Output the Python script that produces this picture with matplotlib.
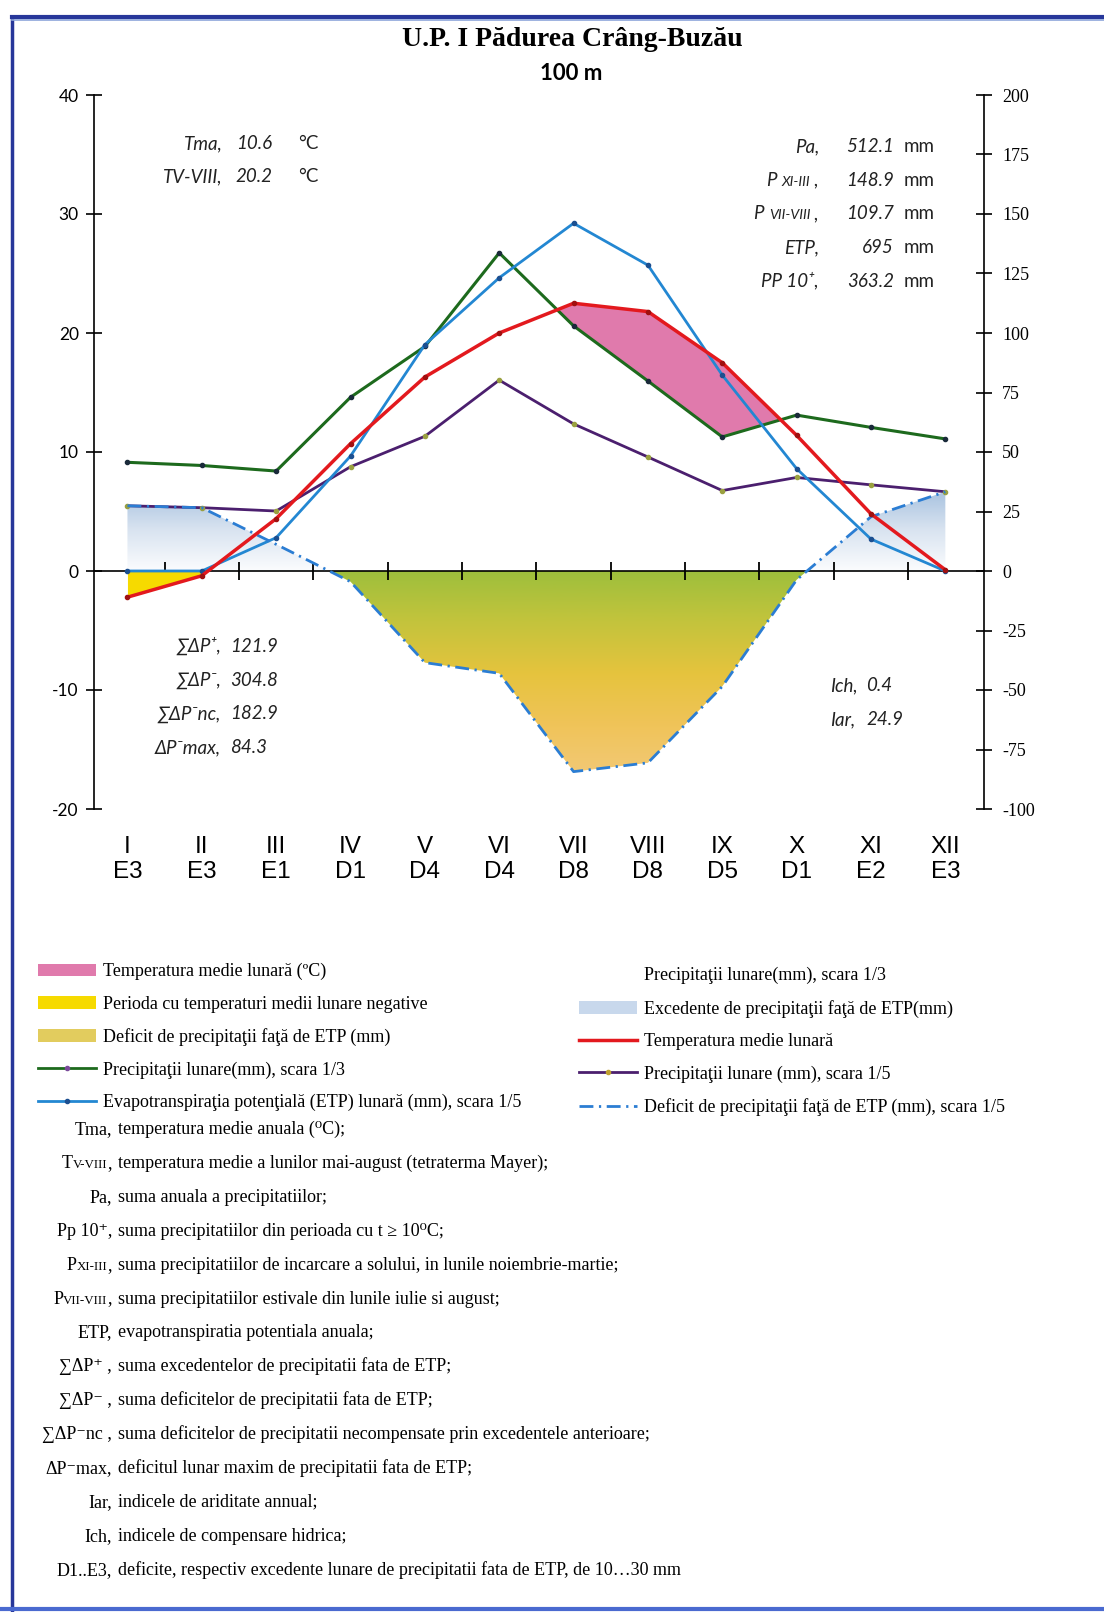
import matplotlib
matplotlib.use("Agg")
import matplotlib.pyplot as plt
import numpy as np
from matplotlib.colors import LinearSegmentedColormap
from matplotlib.lines import Line2D
from matplotlib.patches import Patch
from matplotlib.path import Path

plt.rcParams["axes.unicode_minus"] = False

# ---- data ----
months = ["I", "II", "III", "IV", "V", "VI", "VII", "VIII", "IX", "X", "XI", "XII"]
codes = ["E3", "E3", "E1", "D1", "D4", "D4", "D8", "D8", "D5", "D1", "E2", "E3"]
temp = [-2.2, -0.4, 4.4, 10.7, 16.3, 20.0, 22.5, 21.8, 17.5, 11.4, 4.8, 0.1]          # °C
precip = [27.4, 26.6, 25.2, 43.8, 56.6, 80.2, 61.8, 47.9, 33.8, 39.3, 36.2, 33.3]    # mm
etp = [0, 0, 14.0, 48.3, 95.1, 123.2, 146.1, 128.5, 82.3, 43.0, 13.4, 0]             # mm
deficit = [27.4, 26.6, 11.2, -4.5, -38.5, -43.0, -84.3, -80.6, -48.5, -3.7, 22.8, 33.3]  # mm

stats_tl = [("Tma,", "10.6"), ("TV-VIII,", "20.2")]
stats_tr = [([("Pa,", 1.0)], "512.1"),
            ([("P ", 1.0), ("XI-III", 0.75), (" ,", 1.0)], "148.9"),
            ([("P ", 1.0), ("VII-VIII", 0.75), (" ,", 1.0)], "109.7"),
            ([("ETP,", 1.0)], "695"),
            ([("PP 10⁺,", 1.0)], "363.2")]
stats_bl = [("∑ΔP⁺,", "121.9"), ("∑ΔP⁻,", "304.8"), ("∑ΔP⁻nc,", "182.9"), ("ΔP⁻max,", "84.3")]
stats_br = [("Ich,", "0.4"), ("Iar,", "24.9")]

legend_left = ["Temperatura medie lunară (ºC)",
               "Perioda cu temperaturi medii lunare negative",
               "Deficit de precipitaţii faţă de ETP (mm)",
               "Precipitaţii lunare(mm), scara 1/3",
               "Evapotranspiraţia potenţială (ETP) lunară (mm), scara 1/5"]
legend_right = ["Precipitaţii lunare(mm), scara 1/3",
                "Excedente de precipitaţii faţă de ETP(mm)",
                "Temperatura medie lunară",
                "Precipitaţii lunare (mm), scara 1/5",
                "Deficit de precipitaţii faţă de ETP (mm), scara 1/5"]

notes = [
    ([("Tma,", 1.0)], "temperatura medie anuala (⁰C);"),
    ([("T", 1.0), ("V-VIII", 0.72), (",", 1.0)], "temperatura medie a lunilor mai-august (tetraterma Mayer);"),
    ([("Pa,", 1.0)], "suma anuala a precipitatiilor;"),
    ([("Pp 10⁺,", 1.0)], "suma precipitatiilor din perioada cu t ≥ 10⁰C;"),
    ([("P", 1.0), ("XI-III", 0.72), (",", 1.0)], "suma precipitatiilor de incarcare a solului, in lunile noiembrie-martie;"),
    ([("P", 1.0), ("VII-VIII", 0.72), (",", 1.0)], "suma precipitatiilor estivale din lunile iulie si august;"),
    ([("ETP,", 1.0)], "evapotranspiratia potentiala anuala;"),
    ([("∑ΔP⁺ ,", 1.0)], "suma excedentelor de precipitatii fata de ETP;"),
    ([("∑ΔP⁻ ,", 1.0)], "suma deficitelor de precipitatii fata de ETP;"),
    ([("∑ΔP⁻nc ,", 1.0)], "suma deficitelor de precipitatii necompensate prin excedentele anterioare;"),
    ([("ΔP⁻max,", 1.0)], "deficitul lunar maxim de precipitatii fata de ETP;"),
    ([("Iar,", 1.0)], "indicele de ariditate annual;"),
    ([("Ich,", 1.0)], "indicele de compensare hidrica;"),
    ([("D1..E3,", 1.0)], "deficite, respectiv excedente lunare de precipitatii fata de ETP, de 10…30 mm"),
]

SERIF = ["Liberation Serif", "DejaVu Serif"]
SANS = ["Lato", "DejaVu Sans"]

W, H = 1104, 1612
fig = plt.figure(figsize=(W / 100, H / 100), dpi=100)
fig.patch.set_facecolor("white")

ax = fig.add_axes([94 / W, 1 - 809 / H, 890 / W, 714 / H])
ax2 = ax.twinx()          # mm scale (1/5 of the temperature scale)
ax.set_zorder(2)
ax.patch.set_visible(False)

xs = np.arange(1, 13)
t = np.array(temp)
p3 = np.array(precip) / 3
d = np.array(deficit)
mm = ax2.transData

# gradient areas (excess / deficit of precipitation vs ETP)
exc = ax.fill_between(xs, d, 0, where=d > 0, interpolate=True, transform=mm,
                      facecolor="none", edgecolor="none")
dfc = ax.fill_between(xs, d, 0, where=d < 0, interpolate=True, transform=mm,
                      facecolor="none", edgecolor="none")
grad = np.linspace(0, 1, 256).reshape(-1, 1)
cm_exc = LinearSegmentedColormap.from_list("exc", ["#fbfcfe", "#d8e3f0", "#a3bfde"])
cm_def = LinearSegmentedColormap.from_list(
    "def", ["#f2c978", "#f0c45a", "#e6c33e", "#c4c43c", "#9dbf3c"])
im1 = ax.imshow(grad, cmap=cm_exc, origin="lower", extent=(0.55, 12.52, 0, 7),
                aspect="auto", zorder=1)
im1.set_clip_path(Path.make_compound_path(*exc.get_paths()), exc.get_transform())
im2 = ax.imshow(grad, cmap=cm_def, origin="lower", extent=(0.55, 12.52, -17.5, 0),
                aspect="auto", zorder=1)
im2.set_clip_path(Path.make_compound_path(*dfc.get_paths()), dfc.get_transform())

ax.fill_between(xs, t, 0, where=t < 0, interpolate=True, color="#f6da00", lw=0, zorder=2)
ax.fill_between(xs, t, p3, where=t > p3, interpolate=True, color="#e07aac", lw=0, zorder=2)

green, red, blue, purple = "#1d6a1d", "#e3191e", "#2387d2", "#4b1f6e"
ax.plot(xs, precip, transform=mm, color=purple, lw=2, marker="o", ms=3,
        mfc="#9aa040", mec="#9aa040", zorder=4)
ax.plot(xs, p3, color=green, lw=2.2, marker="o", ms=3, mfc="#1a2a3a", mec="#1a2a3a", zorder=4)
ax.plot(xs, etp, transform=mm, color=blue, lw=2, marker="o", ms=3, mfc="#1c4f90",
        mec="#1c4f90", zorder=5)
ax.plot(xs, deficit, transform=mm, color="#2b7dd3", lw=2, ls=(0, (5, 2, 0.8, 2)), zorder=5)
ax.plot(xs, temp, color=red, lw=2.5, marker="o", ms=3, mfc="#a01010", mec="#a01010", zorder=6)

# axes styling
ax.set_xlim(0.55, 12.52)
ax.set_ylim(-20, 40)
ax2.set_ylim(-100, 200)
for s in ["top", "right"]:
    ax.spines[s].set_visible(False)
ax.spines["bottom"].set_position(("data", 0))
ax.spines["left"].set_linewidth(1.2)
ax.spines["bottom"].set_linewidth(1.2)
for s in ["top", "left", "bottom"]:
    ax2.spines[s].set_visible(False)
ax2.spines["right"].set_linewidth(1.2)

ax.set_yticks(range(-20, 41, 10))
ax.tick_params(axis="y", direction="inout", length=12, width=1.2, labelsize=12.5,
               pad=5, labelfontfamily="Lato")
ax.set_xticks(np.arange(1.5, 12, 1))
ax.set_xticklabels([])
ax.tick_params(axis="x", direction="inout", length=13, width=1.3)
ax2.set_yticks(range(-100, 201, 25))
ax2.tick_params(axis="y", direction="inout", length=12, width=1.2, labelsize=13,
                pad=7, labelfontfamily="Liberation Serif")

sec = ax.secondary_xaxis(0.0)
sec.set_xticks(xs, [f"{m}\n{c}" for m, c in zip(months, codes)])
sec.spines["bottom"].set_visible(False)
sec.tick_params(length=0, pad=19.5, labelsize=17.5, labelfontfamily="Liberation Sans")

# overlay for text (pixel coordinates)
tx = fig.add_axes([0, 0, 1, 1])
tx.set_xlim(0, W)
tx.set_ylim(H, 0)
tx.axis("off")
tx.patch.set_visible(False)
tx.set_zorder(5)


def right_parts(x, y, parts, size, **kw):
    art = None
    for s, k in reversed(parts):
        if art is None:
            art = tx.text(x, y, s, ha="right", va="baseline", fontsize=size * k, **kw)
        else:
            art = tx.annotate(s, xy=(0, y), xycoords=(art, "data"), ha="right",
                              va="baseline", fontsize=size * k, **kw)
    return art


# title
tx.text(572, 40, "U.P. I Pădurea Crâng-Buzău", ha="center", va="center", fontsize=20,
        fontweight="bold", family=SERIF)
tx.text(571, 73, "100 m", ha="center", va="center", fontsize=16, fontweight="bold", family=SANS)

# frame
tx.plot([12, 12], [17, 1612], color="#27379a", lw=2.5)
tx.plot([12, W], [17, 17], color="#27379a", lw=3)
tx.plot([12, W], [20, 20], color="#8ea6da", lw=1.2)
tx.plot([0, W], [1609, 1609], color="#4a6ad0", lw=3)

ita = dict(style="italic", family=SANS, color="#222222")
upr = dict(family=SANS, color="#222222")
for i, (lab, val) in enumerate(stats_tl):
    y = 149 + i * 33
    tx.text(223, y, lab, ha="right", va="baseline", fontsize=13.5, **ita)
    tx.text(272, y, val, ha="right", va="baseline", fontsize=13.5, **ita)
    tx.text(298, y, "°C", ha="left", va="baseline", fontsize=13.5, **upr)

for i, (parts, val) in enumerate(stats_tr):
    y = 152 + i * 33.7
    right_parts(819, y, parts, 13.5, **ita)
    tx.text(894, y, val, ha="right", va="baseline", fontsize=13.5, **ita)
    tx.text(904, y, "mm", ha="left", va="baseline", fontsize=13.5, **upr)

for i, (lab, val) in enumerate(stats_bl):
    y = 652 + i * 33.7
    tx.text(221, y, lab, ha="right", va="baseline", fontsize=13.5, **ita)
    tx.text(230, y, val, ha="left", va="baseline", fontsize=13.5, **ita)

for i, (lab, val) in enumerate(stats_br):
    y = 691 + i * 34
    tx.text(830, y, lab, ha="left", va="baseline", fontsize=13.5, **ita)
    tx.text(866, y, val, ha="left", va="baseline", fontsize=13.5, **ita)

# legends
h_left = [Patch(fc="#e07aac", ec="none"), Patch(fc="#f6da00", ec="none"),
          Patch(fc="#e2cc5e", ec="none"),
          Line2D([], [], color=green, lw=2, marker="o", ms=3, mfc="#7a4a9a", mec="#7a4a9a"),
          Line2D([], [], color=blue, lw=2, marker="o", ms=3, mfc="#1c4f90", mec="#1c4f90")]
h_right = [Line2D([], [], color="none"), Patch(fc="#c8d8ec", ec="none"),
           Line2D([], [], color=red, lw=2.5),
           Line2D([], [], color=purple, lw=2, marker="o", ms=3, mfc="#c0a030", mec="#c0a030"),
           Line2D([], [], color="#2b7dd3", lw=2, ls=(0, (5, 2, 0.8, 2)))]
leg_kw = dict(loc="upper left", bbox_transform=tx.transData, frameon=False, borderpad=0,
              borderaxespad=0, handlelength=3.2, handletextpad=0.4, labelspacing=0.85,
              numpoints=1, prop={"family": SERIF, "size": 13})
leg1 = tx.legend(h_left, legend_left, bbox_to_anchor=(38, 963), **leg_kw)
tx.add_artist(leg1)
tx.legend(h_right, legend_right, bbox_to_anchor=(579, 967), **leg_kw)

# definitions
for i, (parts, desc) in enumerate(notes):
    y = 1134 + i * 33.9
    right_parts(112, y, parts, 13, family=SERIF)
    tx.text(118, y, desc, ha="left", va="baseline", fontsize=13, family=SERIF)

fig.savefig("out.png", dpi=100, facecolor="white")
